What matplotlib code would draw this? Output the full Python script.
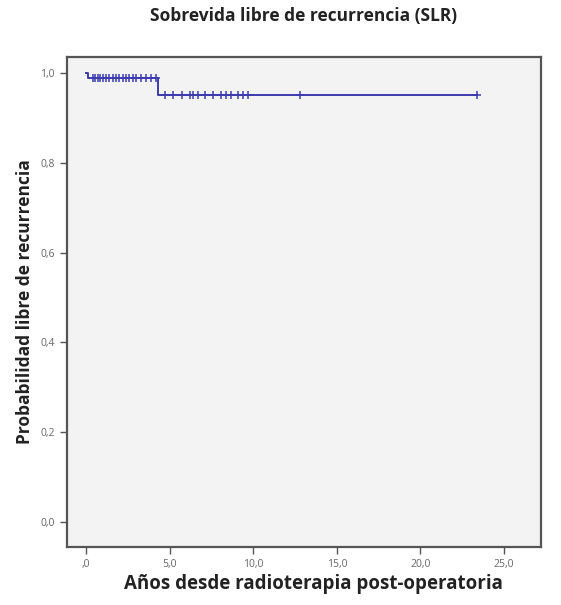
import numpy as np
import matplotlib.pyplot as plt

# Kaplan-Meier step curve
step_t = [0.0, 0.1, 4.3, 23.4]
step_s = [1.0, 0.989, 0.951, 0.951]

# censored observations
cens_t = [0.4, 0.55, 0.7, 0.85, 1.0, 1.2, 1.4, 1.6, 1.8, 2.0, 2.2, 2.4, 2.6,
          2.8, 3.0, 3.3, 3.6, 3.9, 4.2,
          4.7, 5.2, 5.75, 6.2, 6.4, 6.7, 7.1, 7.6, 8.1, 8.4, 8.7, 9.1, 9.4,
          9.7, 12.8, 23.4]
cens_s = [0.989] * 19 + [0.951] * 16

xticks = [0, 5, 10, 15, 20, 25]
xtick_labels = [",0", "5,0", "10,0", "15,0", "20,0", "25,0"]
yticks = [0.0, 0.2, 0.4, 0.6, 0.8, 1.0]
ytick_labels = ["0,0", "0,2", "0,4", "0,6", "0,8", "1,0"]

plt.rcParams['font.family'] = ['Open Sans', 'DejaVu Sans']

fig = plt.figure(figsize=(5.61, 6.05), dpi=100)
ax = fig.add_axes([0.119, 0.096, 0.845, 0.81])
ax.set_facecolor('#f3f3f4')

ax.step(step_t, step_s, where='post', color='#3c3cae', lw=1.4)
ax.plot(cens_t, cens_s, linestyle='none', marker='+', color='#3c3cae',
        markersize=6, mew=1.1)

ax.set_xlim(-1.15, 27.2)
ax.set_ylim(-0.056, 1.036)
ax.set_xticks(xticks)
ax.set_xticklabels(xtick_labels)
ax.set_yticks(yticks)
ax.set_yticklabels(ytick_labels)
ax.tick_params(direction='out', length=5, width=1, color='#555555',
               labelsize=7.5, labelcolor='#666666')

for s in ax.spines.values():
    s.set_color('#555555')
    s.set_linewidth(1.6)

ax.set_title("Sobrevida libre de recurrencia (SLR)", fontsize=12.5,
             fontweight='bold', color='#222222', pad=26)
ax.set_xlabel("Años desde radioterapia post-operatoria", fontsize=13.5,
              fontweight='bold', color='#222222')
ax.xaxis.set_label_coords(0.52, -0.055)
ax.set_ylabel("Probabilidad libre de recurrencia", fontsize=12.5,
              fontweight='bold', color='#222222', labelpad=5)

fig.savefig("out.png", dpi=100)
plt.close()
